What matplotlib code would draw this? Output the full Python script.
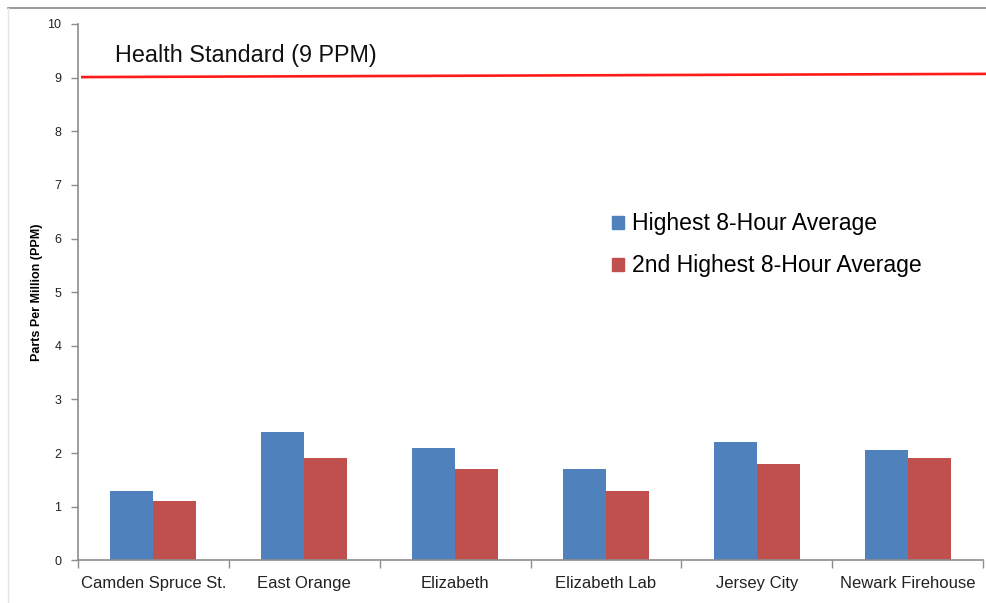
import matplotlib
matplotlib.use("Agg")
import matplotlib.pyplot as plt
import numpy as np
from matplotlib.patches import Patch
from matplotlib.lines import Line2D

plt.rcParams["font.family"] = ["Liberation Sans", "DejaVu Sans"]

# data
sites = ["Camden Spruce St.", "East Orange", "Elizabeth", "Elizabeth Lab",
         "Jersey City", "Newark Firehouse"]
highest = [1.3, 2.4, 2.1, 1.7, 2.2, 2.06]
second_highest = [1.1, 1.9, 1.7, 1.3, 1.8, 1.9]
series_names = ["Highest 8-Hour Average", "2nd Highest 8-Hour Average"]
y_ticks = list(range(0, 11))
standard_x = [-0.48, 5.53]
standard_y = [9.01, 9.07]
standard_label = "Health Standard (9 PPM)"

BLUE = "#4F81BD"
RED = "#C0504D"
AXIS = "#8c8c8c"

fig = plt.figure(figsize=(9.87, 6.03), dpi=100)
ax = fig.add_axes([0.079, 0.0708, 0.917, 0.8894])

x = np.arange(len(sites))
w = 0.285
ax.bar(x - w / 2, highest, w, color=BLUE, label=series_names[0])
ax.bar(x + w / 2, second_highest, w, color=RED, label=series_names[1])

ax.plot(standard_x, standard_y, color="#ff1a1a", lw=1.9, clip_on=False, solid_capstyle="butt")
ax.text(-0.255, 9.42, standard_label, fontsize=16.8, va="center", ha="left", color="#111")

ax.set_xlim(-0.5, len(sites) - 0.5)
ax.set_ylim(0, 10)
ax.set_yticks(y_ticks)
ax.tick_params(axis="y", length=5, width=1, color=AXIS, labelsize=9, labelcolor="#222", pad=7)

ax.set_xticks(x)
ax.set_xticklabels(sites, fontsize=12, color="#222")
ax.tick_params(axis="x", which="major", length=0, pad=11)
ax.set_xticks(np.arange(-0.5, len(sites)), minor=True)
ax.tick_params(axis="x", which="minor", length=6, width=1, color=AXIS)

for side in ["top", "right"]:
    ax.spines[side].set_visible(False)
for side in ["left", "bottom"]:
    ax.spines[side].set_color(AXIS)
    ax.spines[side].set_linewidth(1.2)

ax.set_ylabel("Parts Per Million (PPM)", fontsize=9, fontweight="bold")
ax.yaxis.set_label_coords(-0.0387, 0.50)

handles = [Patch(color=BLUE), Patch(color=RED)]
fig.legend(handles, series_names, loc="center left", bbox_to_anchor=(0.611, 0.5940),
           bbox_transform=fig.transFigure, frameon=False, fontsize=16.6,
           handlelength=0.5, handleheight=0.5, handletextpad=0.35,
           labelspacing=0.82, borderaxespad=0)

# thin frame around the picture, as in the source
fig.add_artist(Line2D([8 / 987, 1], [1 - 8 / 603, 1 - 8 / 603], color="#888", lw=1.2))
fig.add_artist(Line2D([8 / 987, 8 / 987], [0, 1 - 8 / 603], color="#e4e4e4", lw=1))

fig.savefig("out.png", dpi=100)
